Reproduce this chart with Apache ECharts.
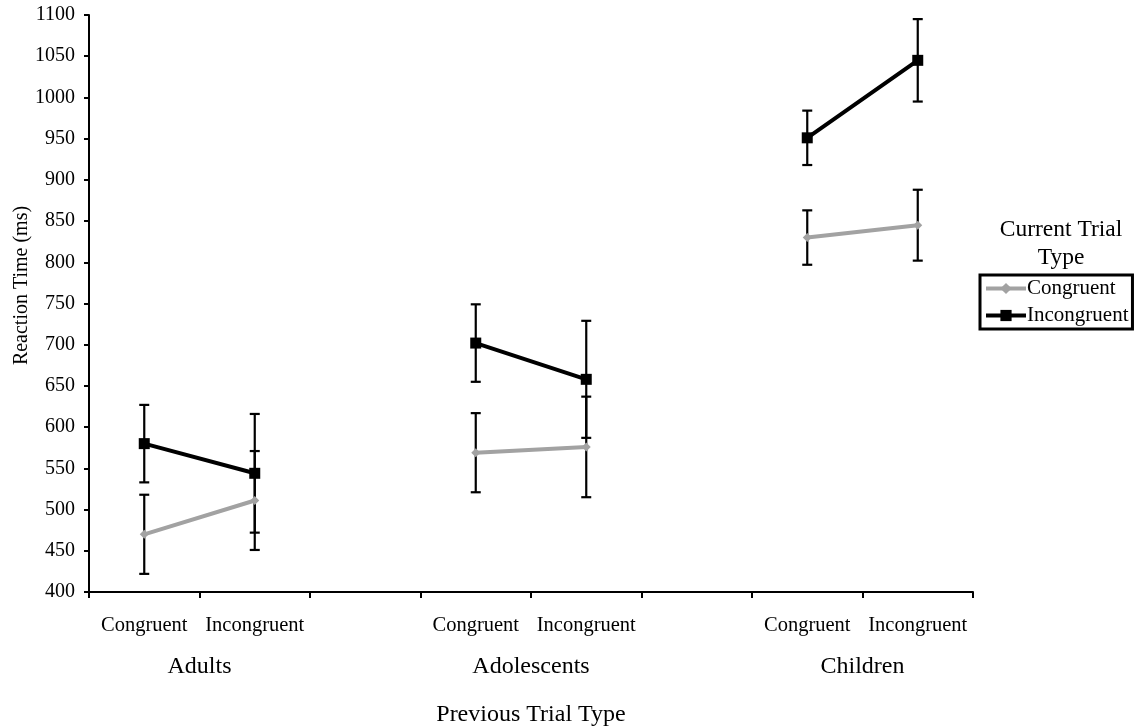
<!DOCTYPE html>
<html>
<head>
<meta charset="utf-8">
<script src="https://cdn.jsdelivr.net/npm/echarts@6/dist/echarts.min.js"></script>
<style>
html,body{margin:0;padding:0;background:#fff;}
#chart{width:1135px;height:727px;}
</style>
</head>
<body>
<div id="chart"></div>
<script>
// ---- data ----
var categories = ['Congruent','Incongruent','','Congruent','Incongruent','','Congruent','Incongruent'];
var groups = ['Adults','Adolescents','Children'];
var congruent = [470, 511, null, 569, 576, null, 830, 845];
var congruentErr = [48, 60, null, 48, 61, null, 33, 43];
var incongruent = [580, 544, null, 702, 658, null, 951, 1045];
var incongruentErr = [47, 72, null, 47, 71, null, 33, 50];
var yTicks = {min: 400, max: 1100, step: 50};

var FONT = 'Liberation Serif';
var grayColor = '#a2a2a2';

function errData(vals, errs){
  var out = [];
  for (var i = 0; i < vals.length; i++) {
    if (vals[i] == null) continue;
    out.push([i, vals[i] - errs[i], vals[i] + errs[i]]);
  }
  return out;
}
function errRender(params, api){
  var x = api.value(0);
  var lo = api.coord([x, api.value(1)]);
  var hi = api.coord([x, api.value(2)]);
  var cap = 5;
  var st = {stroke: '#000', lineWidth: 2.2};
  return {type: 'group', children: [
    {type: 'line', shape: {x1: lo[0], y1: lo[1], x2: hi[0], y2: hi[1]}, style: st},
    {type: 'line', shape: {x1: lo[0]-cap, y1: lo[1], x2: lo[0]+cap, y2: lo[1]}, style: st},
    {type: 'line', shape: {x1: hi[0]-cap, y1: hi[1], x2: hi[0]+cap, y2: hi[1]}, style: st}
  ]};
}

var groupPos = {};
groups.forEach(function(g, i){ groupPos[3*i+1] = g; });

var chart = echarts.init(document.getElementById('chart'));
chart.setOption({
  animation: false,
  backgroundColor: '#fff',
  textStyle: {fontFamily: FONT, color: '#000'},
  grid: {left: 89, right: 162, top: 15, bottom: 135, containLabel: false, outerBoundsMode: 'none'},
  title: {
    text: 'Current Trial\nType',
    left: 1056, top: 211, textAlign: 'center',
    textStyle: {fontFamily: FONT, fontSize: 23.5, fontWeight: 'normal', color: '#000', lineHeight: 28}
  },
  legend: {
    orient: 'vertical',
    left: 980, top: 275,
    padding: [3, 4, 3, 4],
    borderColor: '#000', borderWidth: 3,
    itemWidth: 40, itemHeight: 14, itemGap: 6,
    lineStyle: {width: 4},
    textStyle: {fontFamily: FONT, fontSize: 21, color: '#000', padding: [0,0,0,-4]},
    data: ['Congruent', 'Incongruent']
  },
  xAxis: [{
    type: 'category',
    data: categories,
    boundaryGap: true,
    axisLine: {lineStyle: {color: '#000', width: 2}},
    axisTick: {show: true, length: 6, interval: 0, lineStyle: {color: '#000', width: 2}},
    axisLabel: {interval: 0, fontFamily: FONT, fontSize: 20.5, color: '#000', margin: 23},
    splitLine: {show: false}
  }, {
    type: 'value',
    position: 'bottom',
    min: 0, max: categories.length, interval: 1,
    axisLine: {show: false},
    axisTick: {show: false},
    splitLine: {show: false},
    axisLabel: {
      fontFamily: FONT, fontSize: 24, color: '#000', margin: 63,
      formatter: function(v){ return groupPos[v] || ''; }
    },
    name: 'Previous Trial Type',
    nameLocation: 'middle',
    nameGap: 111,
    nameMoveOverlap: false,
    nameTextStyle: {fontFamily: FONT, fontSize: 24, color: '#000'}
  }],
  yAxis: {
    type: 'value',
    min: yTicks.min, max: yTicks.max, interval: yTicks.step,
    axisLine: {show: true, lineStyle: {color: '#000', width: 2}},
    axisTick: {show: true, length: 5, lineStyle: {color: '#000', width: 2}},
    axisLabel: {fontFamily: FONT, fontSize: 20, color: '#000', margin: 14,
      formatter: function(v){ return String(v); }},
    splitLine: {show: false},
    name: 'Reaction Time (ms)',
    nameLocation: 'middle',
    nameGap: 57,
    nameMoveOverlap: false,
    nameTextStyle: {fontFamily: FONT, fontSize: 20, color: '#000', padding: [0, 0, 0, 36]}
  },
  series: [{
    name: 'CongruentErr', type: 'custom', renderItem: errRender,
    data: errData(congruent, congruentErr), z: 1, silent: true
  }, {
    name: 'IncongruentErr', type: 'custom', renderItem: errRender,
    data: errData(incongruent, incongruentErr), z: 1, silent: true
  }, {
    name: 'Congruent', type: 'line', data: congruent, connectNulls: false,
    symbol: 'diamond', symbolSize: 9, showSymbol: true,
    itemStyle: {color: grayColor, borderWidth: 0},
    lineStyle: {color: grayColor, width: 4}, z: 3
  }, {
    name: 'Incongruent', type: 'line', data: incongruent, connectNulls: false,
    symbol: 'rect', symbolSize: 11, showSymbol: true,
    itemStyle: {color: '#000', borderWidth: 0},
    lineStyle: {color: '#000', width: 4}, z: 3
  }]
});
</script>
</body>
</html>
